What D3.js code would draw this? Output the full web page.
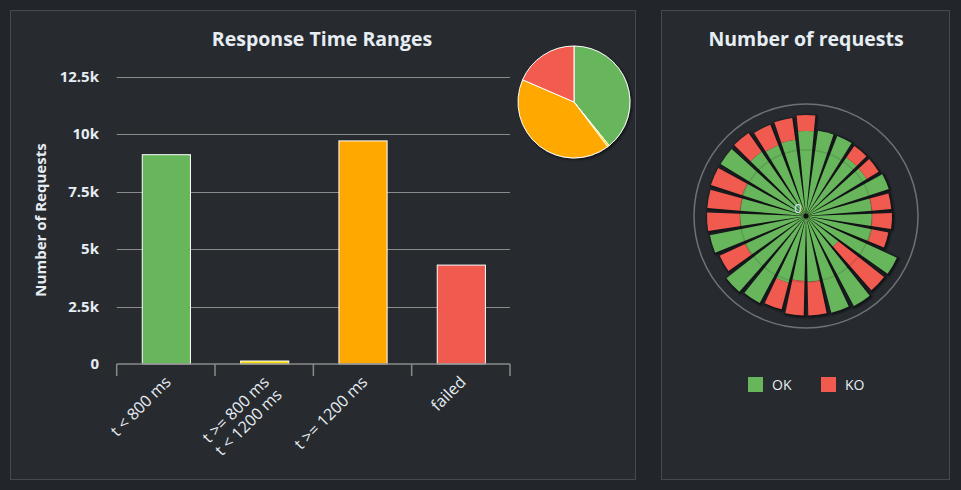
<!DOCTYPE html>
<html><head><meta charset="utf-8">
<script src="https://cdn.jsdelivr.net/npm/d3@7"></script>
<style>
html,body{margin:0;padding:0;background:#222529;}
svg{display:block;}
text{font-family:"Open Sans",sans-serif;}
</style></head>
<body>
<svg id="chart" width="961" height="490"></svg>
<script>
// ---------- data ----------
const rangeCategories = ["t < 800 ms", "t >= 800 ms\nt < 1200 ms", "t >= 1200 ms", "failed"];
const rangeValues = [9100, 130, 9700, 4300];
const rangeColors = ["#68b65c", "#ffdd00", "#ffa900", "#f15b4f"];
const yTickValues = [0, 2500, 5000, 7500, 10000, 12500];
const yTickLabels = ["0", "2.5k", "5k", "7.5k", "10k", "12.5k"];

const requestOK = [850, 860, 860, 710, 710, 870, 660, 660, 670, 1000, 410, 1020, 1000, 660, 650, 690, 986, 1010, 670, 980, 660, 660, 670, 1000, 780, 760, 770];
const requestKO = [160, 0, 0, 140, 140, 0, 195, 200, 170, 0, 580, 0, 0, 335, 345, 275, 0, 0, 280, 0, 330, 330, 330, 0, 230, 220, 220];
const requestMax = 1120;
const seriesNames = ["OK", "KO"];
const seriesColors = ["#68b65c", "#f15b4f"];

// ---------- setup ----------
const svg = d3.select("#chart");
const TXT = "#e6edf3";
const defs = svg.append("defs");
const f = defs.append("filter").attr("id","pieShadow").attr("x","-20%").attr("y","-20%").attr("width","150%").attr("height","150%");
f.append("feDropShadow").attr("dx",1.5).attr("dy",1.5).attr("stdDeviation",1.5).attr("flood-color","#000").attr("flood-opacity",0.6);

// panels
svg.append("rect").attr("x",10.5).attr("y",10.5).attr("width",625).attr("height",469)
  .attr("fill","#272b30").attr("stroke","#454a50");
svg.append("rect").attr("x",661.5).attr("y",10.5).attr("width",288).attr("height",469)
  .attr("fill","#272b30").attr("stroke","#454a50");

// ---------- bar chart ----------
const y = d3.scaleLinear().domain([0, 12500]).range([364, 76.5]);
const x = d3.scaleBand().domain(rangeCategories).range([116.7, 510]).padding(0);
const barW = x.bandwidth() * 0.49;

svg.append("text").attr("x", 322).attr("y", 46).attr("text-anchor","middle")
  .attr("fill", TXT).attr("font-size", 19.5).attr("font-weight", 700).text("Response Time Ranges");

const gGrid = svg.append("g");
gGrid.selectAll("line").data(yTickValues.slice(1)).join("line")
  .attr("x1", 116.7).attr("x2", 510).attr("y1", d => Math.round(y(d)) + 0.5).attr("y2", d => Math.round(y(d)) + 0.5)
  .attr("stroke", "#8a8a8a").attr("stroke-width", 1);

svg.append("g").selectAll("text").data(yTickValues).join("text")
  .attr("x", 99).attr("y", d => y(d) + 5).attr("text-anchor","end")
  .attr("fill", TXT).attr("font-size", 15).attr("font-weight", 700)
  .text((d,i) => yTickLabels[i]);

svg.append("text").attr("transform","translate(46,220) rotate(-90)").attr("text-anchor","middle")
  .attr("fill", TXT).attr("font-size", 15).attr("font-weight", 700).text("Number of Requests");

// bars
svg.append("g").selectAll("rect").data(rangeValues).join("rect")
  .attr("x", (d,i) => x(rangeCategories[i]) + (x.bandwidth() - barW)/2 + 0.5)
  .attr("width", barW)
  .attr("y", d => y(d))
  .attr("height", d => y(0) - y(d))
  .attr("fill", (d,i) => rangeColors[i])
  .attr("stroke", "#ffffff").attr("stroke-width", 1);

// x axis
const ax = svg.append("g");
ax.append("line").attr("x1", 116.7).attr("x2", 510).attr("y1", 364).attr("y2", 364).attr("stroke","#8a8a8a").attr("stroke-width",1.5);
const tickXs = rangeCategories.map(c => x(c)).concat([x.range()[1]]);
ax.selectAll("line.tick").data(tickXs).join("line").attr("class","tick")
  .attr("x1", d => d).attr("x2", d => d).attr("y1", 364).attr("y2", 376)
  .attr("stroke","#8a8a8a").attr("stroke-width",1.5);

const lbl = svg.append("g").selectAll("text").data(rangeCategories).join("text")
  .attr("transform", c => `translate(${x(c) + x.bandwidth()/2 + 6},${383}) rotate(-45)`)
  .attr("text-anchor","end").attr("fill", TXT).attr("font-size", 16);
lbl.each(function(c){
  const t = d3.select(this);
  c.split("\n").forEach((line, i) => {
    t.append("tspan").attr("x", 0).attr("dy", i === 0 ? 0 : 18).text(line);
  });
});

// pie
const pie = d3.pie().sort(null).value(d => d)(rangeValues);
const arcP = d3.arc().innerRadius(0).outerRadius(56);
svg.append("g").attr("transform","translate(574,102)").attr("filter","url(#pieShadow)")
  .selectAll("path").data(pie).join("path")
  .attr("d", arcP).attr("fill", (d,i) => rangeColors[i])
  .attr("stroke", "#ffffff").attr("stroke-width", 1).attr("stroke-linejoin","round");

// ---------- polar chart ----------
svg.append("text").attr("x", 806).attr("y", 46).attr("text-anchor","middle")
  .attr("fill", TXT).attr("font-size", 19.5).attr("font-weight", 700).text("Number of requests");

const cx = 806, cy = 216;
const r = d3.scaleLinear().domain([0, requestMax]).range([0, 112]);
const n = requestOK.length;
const slot = 2 * Math.PI / n;
const half = slot * 0.4;
const pg = svg.append("g").attr("transform", `translate(${cx},${cy})`);

pg.append("circle").attr("r", 112).attr("fill","none").attr("stroke","#6e7276").attr("stroke-width",1.5);

const arcW = d3.arc();
const wedges = requestOK.map((ok, i) => ({
  i, ok, ko: requestKO[i],
  a0: i * slot - half, a1: i * slot + half
}));
// shadows
const sh = pg.append("g").attr("transform","translate(1,1)");
[[6,0.1],[4,0.18],[2,0.28]].forEach(([w,o]) => {
  sh.selectAll(null).data(wedges).join("path")
    .attr("d", d => arcW({innerRadius:0, outerRadius:r(d.ok + d.ko), startAngle:d.a0, endAngle:d.a1}))
    .attr("fill","none").attr("stroke","#000").attr("stroke-opacity",o).attr("stroke-width",w)
    .attr("stroke-linejoin","round");
});
pg.append("g").selectAll("path").data(wedges).join("path")
  .attr("d", d => arcW({innerRadius:0, outerRadius:r(d.ok), startAngle:d.a0, endAngle:d.a1}))
  .attr("fill", seriesColors[0]);
pg.append("g").selectAll("path").data(wedges.filter(d => d.ko > 0)).join("path")
  .attr("d", d => arcW({innerRadius:r(d.ok), outerRadius:r(d.ok + d.ko), startAngle:d.a0, endAngle:d.a1}))
  .attr("fill", seriesColors[1]);
// faint inner ring (shading seen in the reference)
pg.append("circle").attr("r", 66).attr("fill","none").attr("stroke","#000").attr("stroke-opacity",0.12).attr("stroke-width",1.5);
pg.append("circle").attr("r", 2.5).attr("fill","#111");
pg.append("text").attr("x", -8).attr("y", -3).attr("text-anchor","middle")
  .attr("fill", "#dde8f2").attr("font-size", 13).text("0");

// legend
const lg = svg.append("g").selectAll("g").data(seriesNames).join("g")
  .attr("transform", (d,i) => `translate(${748 + i*73},377)`);
lg.append("rect").attr("width",15).attr("height",15).attr("fill",(d,i)=>seriesColors[i]);
lg.append("text").attr("x",24).attr("y",13).attr("fill",TXT).attr("font-size",14).text(d=>d);
</script>
</body></html>
